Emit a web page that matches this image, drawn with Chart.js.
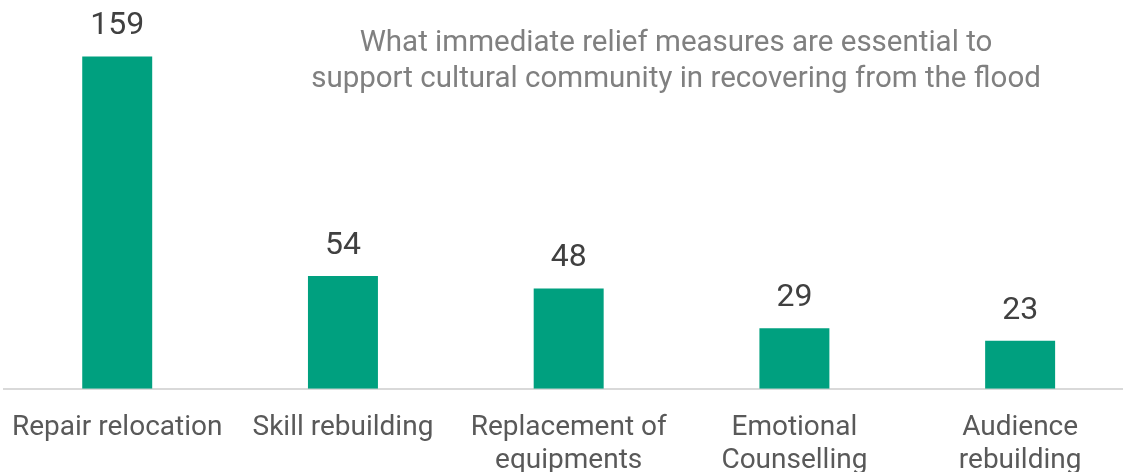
<!DOCTYPE html>
<html>
<head>
<meta charset="utf-8">
<script src="https://cdn.jsdelivr.net/npm/chart.js@4"></script>
<style>
  html, body { margin: 0; padding: 0; background: #fff; overflow: hidden; }
  #wrap { position: absolute; left: -2px; top: 0; width: 1135px; height: 492px; }
</style>
</head>
<body>
<div id="wrap"><canvas id="barchart"></canvas></div>
<script>
/*data*/
const categories = [
  'Repair relocation',
  'Skill rebuilding',
  ['Replacement of', 'equipments'],
  ['Emotional', 'Counselling'],
  ['Audience', 'rebuilding']
];
const responses = [159, 54, 48, 29, 23];
const titleLines = [
  'What immediate relief measures are essential to',
  'support cultural community in recovering from the flood'
];

/*draws the value above each bar and the title inside the chart*/
const labelsPlugin = {
  id: 'labelsPlugin',
  afterDatasetsDraw(chart) {
    const ctx = chart.ctx;
    const meta = chart.getDatasetMeta(0);
    ctx.save();
    ctx.font = '32px Roboto';
    ctx.fillStyle = '#404040';
    ctx.textAlign = 'center';
    ctx.textBaseline = 'bottom';
    meta.data.forEach(function (bar, i) {
      ctx.fillText(String(responses[i]), bar.x, bar.y - 14);
    });

    ctx.font = '29.5px Roboto';
    ctx.fillStyle = '#808080';
    ctx.textBaseline = 'middle';
    ctx.fillText(titleLines[0], 678, 44);
    ctx.fillText(titleLines[1], 678, 80);
    ctx.restore();
  }
};

window.onload = function () {
  const ctx = document.getElementById('barchart').getContext('2d');

  new Chart(ctx, {
    type: 'bar',
    data: {
      labels: categories,
      datasets: [{
        data: responses,
        backgroundColor: '#00a07f',
        barPercentage: 0.31,
        categoryPercentage: 1
      }]
    },
    options: {
      responsive: true,
      maintainAspectRatio: false,
      animation: false,
      layout: { padding: 0 },
      plugins: {
        legend: { display: false },
        title: { display: false },
        tooltip: { enabled: false }
      },
      scales: {
        x: {
          grid: { display: false },
          border: { display: true, color: '#d9d9d9', width: 2 },
          ticks: {
            color: '#595959',
            font: { family: 'Roboto', size: 28, lineHeight: 1.2 },
            maxRotation: 0,
            autoSkip: false,
            padding: 14
          }
        },
        y: {
          display: false,
          min: 0,
          max: 186
        }
      }
    },
    plugins: [labelsPlugin]
  });
};
</script>
</body>
</html>
